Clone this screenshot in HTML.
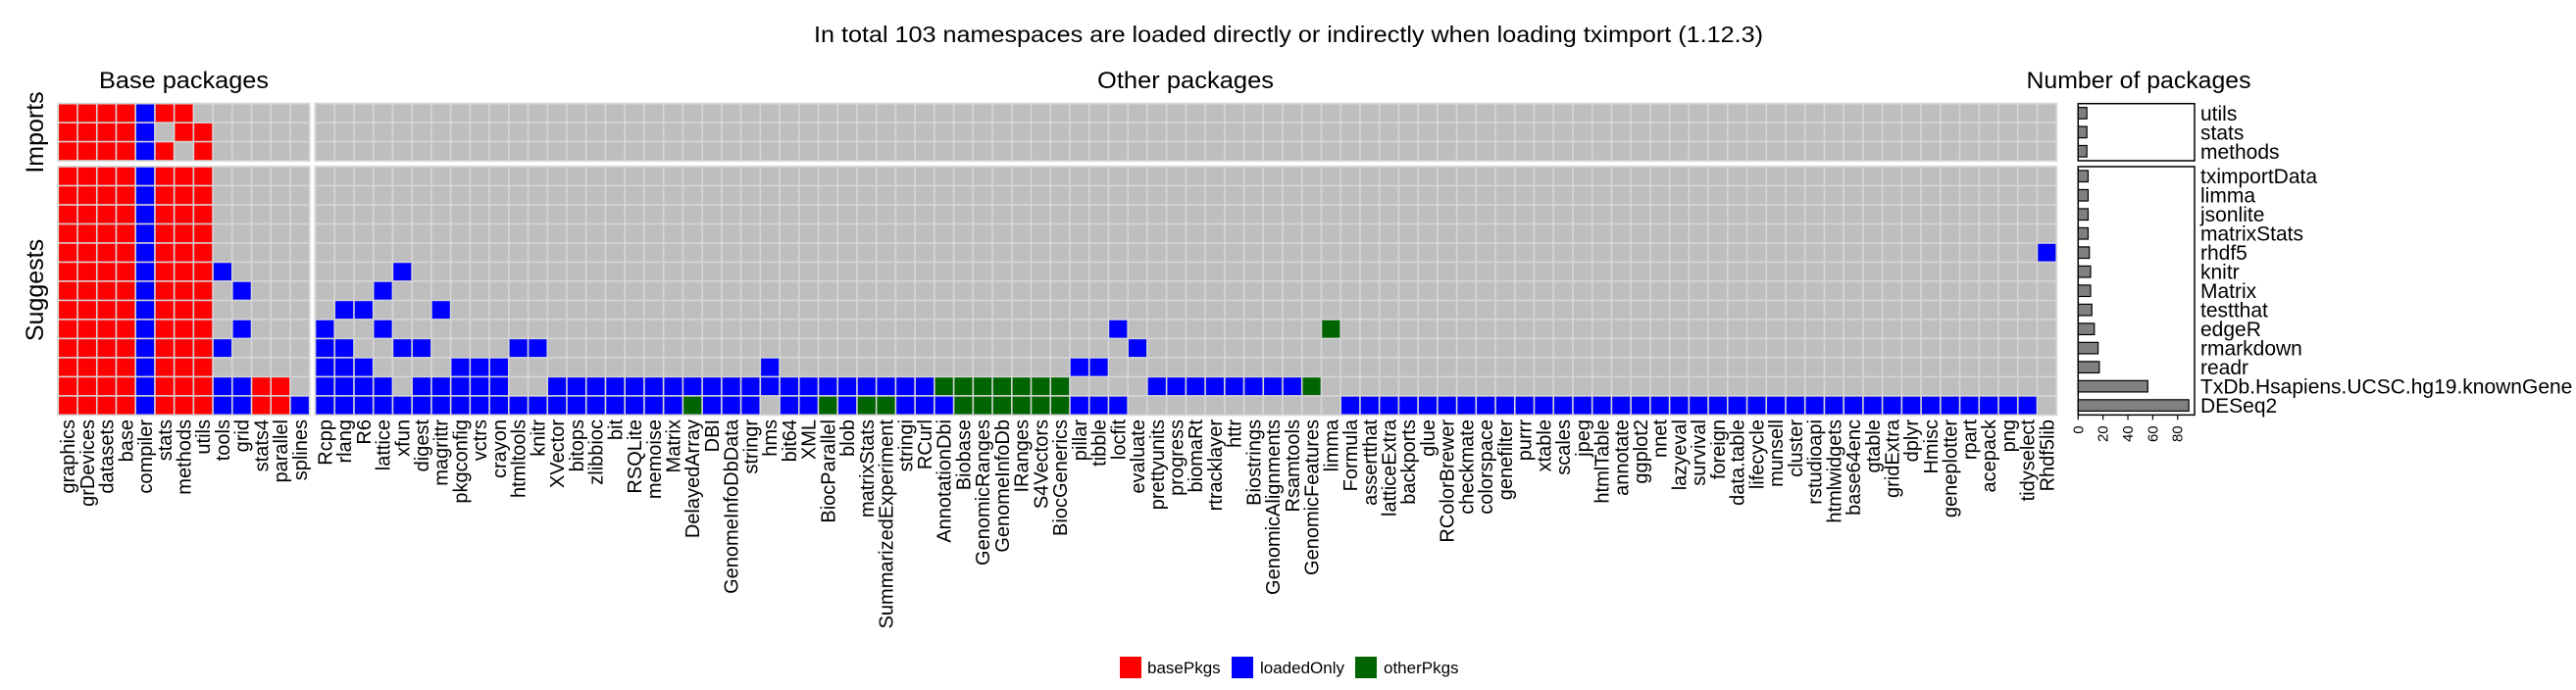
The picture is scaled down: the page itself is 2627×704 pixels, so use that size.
<!DOCTYPE html>
<html><head><meta charset="utf-8">
<style>
html,body{margin:0;padding:0;background:#fff;}
svg{display:block;font-family:"Liberation Sans",Arial,sans-serif;}
</style></head>
<body>
<svg id="chart" width="2627" height="704" viewBox="0 0 2627 704" xmlns="http://www.w3.org/2000/svg">
<rect x="0" y="0" width="2627" height="704" fill="#ffffff"/>
<text x="1314" y="43" font-size="23" text-anchor="middle" textLength="968" lengthAdjust="spacingAndGlyphs">In total 103 namespaces are loaded directly or indirectly when loading tximport (1.12.3)</text>
<text x="187.5" y="90" font-size="24" text-anchor="middle" textLength="173" lengthAdjust="spacingAndGlyphs">Base packages</text>
<text x="1209" y="90" font-size="24" text-anchor="middle" textLength="180" lengthAdjust="spacingAndGlyphs">Other packages</text>
<text x="2181" y="90" font-size="24" text-anchor="middle" textLength="229" lengthAdjust="spacingAndGlyphs">Number of packages</text>
<text transform="translate(44,135) rotate(-90)" font-size="25" text-anchor="middle">Imports</text>
<text transform="translate(44,296) rotate(-90)" font-size="25" text-anchor="middle">Suggests</text>
<g id="cells"></g>
<g id="bars"></g>
<g id="labels"></g>
<g>
  <rect x="1142" y="670" width="22" height="22" fill="#FF0000"/>
  <text x="1170" y="687" font-size="17">basePkgs</text>
  <rect x="1256" y="670" width="22" height="22" fill="#0000FF"/>
  <text x="1285" y="687" font-size="17">loadedOnly</text>
  <rect x="1382" y="670" width="22" height="22" fill="#006400"/>
  <text x="1411" y="687" font-size="17">otherPkgs</text>
</g>
</svg>
<script>
const baseNames = ["graphics","grDevices","datasets","base","compiler","stats","methods","utils","tools","grid","stats4","parallel","splines"];
const otherNames = ["Rcpp","rlang","R6","lattice","xfun","digest","magrittr","pkgconfig","vctrs","crayon","htmltools","knitr","XVector","bitops","zlibbioc","bit","RSQLite","memoise","Matrix","DelayedArray","DBI","GenomeInfoDbData","stringr","hms","bit64","XML","BiocParallel","blob","matrixStats","SummarizedExperiment","stringi","RCurl","AnnotationDbi","Biobase","GenomicRanges","GenomeInfoDb","IRanges","S4Vectors","BiocGenerics","pillar","tibble","locfit","evaluate","prettyunits","progress","biomaRt","rtracklayer","httr","Biostrings","GenomicAlignments","Rsamtools","GenomicFeatures","limma","Formula","assertthat","latticeExtra","backports","glue","RColorBrewer","checkmate","colorspace","genefilter","purrr","xtable","scales","jpeg","htmlTable","annotate","ggplot2","nnet","lazyeval","survival","foreign","data.table","lifecycle","munsell","cluster","rstudioapi","htmlwidgets","base64enc","gtable","gridExtra","dplyr","Hmisc","geneplotter","rpart","acepack","png","tidyselect","Rhdf5lib"];
const importNames = ["utils","stats","methods"];
const suggestNames = ["tximportData","limma","jsonlite","matrixStats","rhdf5","knitr","Matrix","testthat","edgeR","rmarkdown","readr","TxDb.Hsapiens.UCSC.hg19.knownGene","DESeq2"];
// 0 = not loaded, 1 = basePkgs, 2 = loadedOnly, 3 = otherPkgs
const importBase = ["1111211000000","1111201100000","1111210100000"];
const suggestBase = ["1111211100000","1111211100000","1111211100000","1111211100000","1111211100000","1111211120000","1111211102000","1111211100000","1111211102000","1111211120000","1111211100000","1111211122110","1111211122112"];
const suggestOther = [
  [],[],[],[],
  [[89,2]],
  [[4,2]],
  [[3,2]],
  [[1,2],[2,2],[6,2]],
  [[0,2],[3,2],[41,2],[52,3]],
  [[0,2],[1,2],[4,2],[5,2],[10,2],[11,2],[42,2]],
  [[0,2],[1,2],[2,2],[7,2],[8,2],[9,2],[23,2],[39,2],[40,2]],
  [[0,2],[1,2],[2,2],[3,2],[5,2],[6,2],[7,2],[8,2],[9,2],[12,2],[13,2],[14,2],[15,2],[16,2],[17,2],[18,2],[19,2],[20,2],[21,2],[22,2],[23,2],[24,2],[25,2],[26,2],[27,2],[28,2],[29,2],[30,2],[31,2],[32,3],[33,3],[34,3],[35,3],[36,3],[37,3],[38,3],[43,2],[44,2],[45,2],[46,2],[47,2],[48,2],[49,2],[50,2],[51,3]],
  [[0,2],[1,2],[2,2],[3,2],[4,2],[5,2],[6,2],[7,2],[8,2],[9,2],[10,2],[11,2],[12,2],[13,2],[14,2],[15,2],[16,2],[17,2],[18,2],[19,3],[20,2],[21,2],[22,2],[24,2],[25,2],[26,3],[27,2],[28,3],[29,3],[30,2],[31,2],[32,2],[33,3],[34,3],[35,3],[36,3],[37,3],[38,3],[39,2],[40,2],[41,2],[53,2],[54,2],[55,2],[56,2],[57,2],[58,2],[59,2],[60,2],[61,2],[62,2],[63,2],[64,2],[65,2],[66,2],[67,2],[68,2],[69,2],[70,2],[71,2],[72,2],[73,2],[74,2],[75,2],[76,2],[77,2],[78,2],[79,2],[80,2],[81,2],[82,2],[83,2],[84,2],[85,2],[86,2],[87,2],[88,2]]
];
const importCounts = [7,7,7];
const suggestCounts = [8,8,8,8,9,10,10,11,13,16,17,56,89];
const barTicks = [0,20,40,60,80];

const NS = "http://www.w3.org/2000/svg";
const colors = ["#BEBEBE","#FF0000","#0000FF","#006400"];
const cellsG = document.getElementById("cells");
const barsG = document.getElementById("bars");
const labelsG = document.getElementById("labels");
const CW = 19.73;
const xBase = i => 59.3 + i * 19.72;
const xOther = i => 321.5 + i * CW;
const yImp = r => 105.7 + r * 19.43;
const ySug = r => 170 + r * 19.49;
const IH = 19.43, SH = 19.49;
const bx = v => 2119.3 + v * 1.268;

function mk(tag, attrs, parent) {
  const e = document.createElementNS(NS, tag);
  for (const k in attrs) e.setAttribute(k, attrs[k]);
  parent.appendChild(e);
  return e;
}
const panels = [[xBase(0), yImp(0), 13*19.72, 3*IH],[xOther(0), yImp(0), 90*CW, 3*IH],[xBase(0), ySug(0), 13*19.72, 13*SH],[xOther(0), ySug(0), 90*CW, 13*SH]];
panels.forEach(p => {
  const r = mk("rect", {x:p[0]-1, y:p[1]-1, width:p[2]+2, height:p[3]+2, fill:"#D6D6D6"}, cellsG);
  
  
});
function cell(x, y, w, h, v, name) {
  const r = mk("rect", {x:x+0.8, y:y+0.8, width:w-1.6, height:h-1.6, fill:colors[v]}, cellsG);
  
  
}
importBase.forEach((s, r) => {
  for (let c = 0; c < 13; c++) cell(xBase(c), yImp(r), 19.72, IH, +s[c], 'cell-' + importNames[r] + '-' + baseNames[c]);
  for (let c = 0; c < 90; c++) cell(xOther(c), yImp(r), CW, IH, 0, 'cell-' + importNames[r] + '-' + otherNames[c]);
});
suggestBase.forEach((s, r) => {
  for (let c = 0; c < 13; c++) cell(xBase(c), ySug(r), 19.72, SH, +s[c], 'cell-' + suggestNames[r] + '-' + baseNames[c]);
  const row = new Array(90).fill(0);
  suggestOther[r].forEach(([c, v]) => { row[c] = v; });
  for (let c = 0; c < 90; c++) cell(xOther(c), ySug(r), CW, SH, row[c], 'cell-' + suggestNames[r] + '-' + otherNames[c]);
});
function colLabel(cx, txt) {
  const t = mk("text", {transform:"translate(" + (cx + 7) + ",428) rotate(-90)", "font-size":20, "text-anchor":"end"}, labelsG);
  t.textContent = txt;
  
  
}
baseNames.forEach((n, i) => colLabel(xBase(i) + 9.86, n));
otherNames.forEach((n, i) => colLabel(xOther(i) + CW/2, n));
const boxes = [[yImp(0), 3*IH, 'imports-bar-box'],[ySug(0), 13*SH, 'suggests-bar-box']];
boxes.forEach(b => {
  const r = mk("rect", {x:bx(0), y:b[0], width:2238 - bx(0), height:b[1], fill:"none", stroke:"#000", "stroke-width":1.5}, barsG);
  
  
});
function bar(y, h, v, name) {
  const r = mk("rect", {x:bx(0), y:y + h/2 - 5.8, width:bx(v) - bx(0), height:11.6, fill:"#808080", stroke:"#000", "stroke-width":1.2}, barsG);
  
  
}
function rowLabel(y, h, txt) {
  const t = mk("text", {x:2244, y:y + h/2 + 7.5, "font-size":21}, labelsG);
  t.textContent = txt;
  
  
}
importCounts.forEach((v, r) => { bar(yImp(r), IH, v, importNames[r]); rowLabel(yImp(r), IH, importNames[r]); });
suggestCounts.forEach((v, r) => { bar(ySug(r), SH, v, suggestNames[r]); rowLabel(ySug(r), SH, suggestNames[r]); });
const yAxisBase = ySug(13);
barTicks.forEach(v => {
  const l = mk("line", {x1:bx(v), x2:bx(v), y1:yAxisBase, y2:yAxisBase + 5, stroke:"#000", "stroke-width":1.2}, barsG);
  
  
  const t = mk("text", {transform:"translate(" + (bx(v) + 5) + "," + (yAxisBase + 11) + ") rotate(-90)", "font-size":15, "text-anchor":"end"}, barsG);
  t.textContent = String(v);
  
  
});
</script>
</body></html>
